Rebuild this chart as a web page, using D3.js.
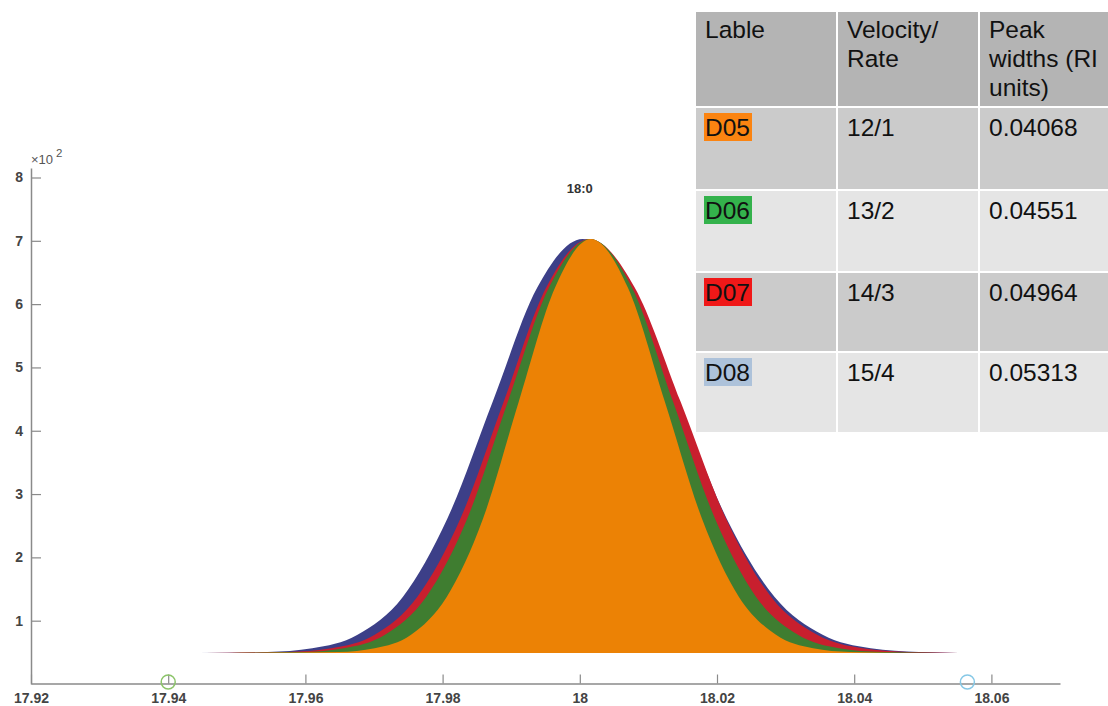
<!DOCTYPE html>
<html>
<head>
<meta charset="utf-8">
<script src="https://cdn.jsdelivr.net/npm/d3@7"></script>
<style>
  body { margin: 0; background: #fff; }
  svg { display: block; font-family: "Liberation Sans", Arial, sans-serif; }
</style>
</head>
<body>
<div id="chart"></div>
<script>
// axis ticks
var xTicks = [17.92, 17.94, 17.96, 17.98, 18, 18.02, 18.04, 18.06];
var xTickLabels = ["17.92", "17.94", "17.96", "17.98", "18", "18.02", "18.04", "18.06"];
var yTicks = [1, 2, 3, 4, 5, 6, 7, 8];
var yTickLabels = ["1", "2", "3", "4", "5", "6", "7", "8"];

// level the peaks sit on (x10^2)
var floorLevel = 0.49;

// series: [retention index, signal x10^2]
var d08 = [[17.9445, 0.49], [17.9545, 0.504], [17.9610, 0.563], [17.9676, 0.777], [17.9742, 1.375],
  [17.9807, 2.614], [17.9873, 4.457], [17.9938, 6.262], [18.0004, 7.03], [18.0074, 6.262],
  [18.0144, 4.457], [18.0214, 2.614], [18.0284, 1.375], [18.0354, 0.777], [18.0424, 0.563],
  [18.0494, 0.504], [18.0552, 0.49]];
var d07 = [[17.9454, 0.49], [17.9575, 0.504], [17.9638, 0.563], [17.9701, 0.777], [17.9763, 1.375],
  [17.9826, 2.614], [17.9889, 4.457], [17.9951, 6.262], [18.0014, 7.03], [18.0080, 6.262],
  [18.0147, 4.457], [18.0213, 2.614], [18.0279, 1.375], [18.0346, 0.777], [18.0412, 0.563],
  [18.0479, 0.504], [18.0552, 0.49]];
var d06 = [[17.9454, 0.49], [17.9597, 0.504], [17.9656, 0.563], [17.9716, 0.777], [17.9776, 1.375],
  [17.9836, 2.614], [17.9895, 4.457], [17.9955, 6.262], [18.0015, 7.03], [18.0076, 6.262],
  [18.0136, 4.457], [18.0197, 2.614], [18.0257, 1.375], [18.0318, 0.777], [18.0378, 0.563],
  [18.0439, 0.504], [18.0526, 0.49]];
var d05 = [[17.9490, 0.49], [17.9649, 0.504], [17.9701, 0.563], [17.9754, 0.777], [17.9806, 1.375],
  [17.9859, 2.614], [17.9911, 4.457], [17.9964, 6.262], [18.0016, 7.03], [18.0070, 6.262],
  [18.0124, 4.457], [18.0178, 2.614], [18.0232, 1.375], [18.0286, 0.777], [18.0340, 0.563],
  [18.0394, 0.504], [18.0467, 0.49]];

var seriesData = [d08, d07, d06, d05];   // back to front
var seriesColors = ["#3c3f88", "#c81f2e", "#3f7d30", "#ec8205"];

// table
var tableHeader = [["Lable"], ["Velocity/", "Rate"], ["Peak", "widths (RI", "units)"]];
var labels = ["D05", "D06", "D07", "D08"];
var labelColors = ["#fb8411", "#34b24c", "#f01818", "#adc2da"];
var velocity = ["12/1", "13/2", "14/3", "15/4"];
var peakWidths = ["0.04068", "0.04551", "0.04964", "0.05313"];

// axis markers
var markerX = [17.94, 18.0565];
var markerColors = ["#8cc46a", "#86c8e6"];

var svgWidth = 1108;
var svgHeight = 706;

var svg = d3.select("#chart")
  .append("svg")
  .attr("width", svgWidth)
  .attr("height", svgHeight);

var x = d3.scaleLinear().domain([17.92, 18.07]).range([31, 1060]);
var y = d3.scaleLinear().domain([0, 8.15]).range([684, 168]);

// peaks
var area = d3.area()
  .x(d => x(d[0]))
  .y0(y(floorLevel))
  .y1(d => y(d[1]))
  .curve(d3.curveMonotoneX);

svg.append("g").selectAll("path")
  .data(seriesData)
  .enter()
  .append("path")
  .attr("d", area)
  .attr("fill", (d, i) => seriesColors[i]);

// axes
var xAxis = svg.append("g")
  .attr("transform", "translate(0,683.5)")
  .call(d3.axisBottom(x)
    .tickValues(xTicks)
    .tickFormat((d, i) => xTickLabels[i])
    .tickSizeInner(-9)
    .tickSizeOuter(0)
    .tickPadding(10));

var yAxis = svg.append("g")
  .attr("transform", "translate(31,0)")
  .call(d3.axisLeft(y)
    .tickValues(yTicks)
    .tickFormat((d, i) => yTickLabels[i])
    .tickSizeInner(-10)
    .tickSizeOuter(0)
    .tickPadding(8));

[xAxis, yAxis].forEach(function(ax) {
  ax.attr("font-size", 14).attr("font-family", "Liberation Sans, Arial, sans-serif");
  ax.select(".domain").attr("stroke", "#8a8a8a").attr("stroke-width", 1.5);
  ax.selectAll(".tick line").attr("stroke", "#8a8a8a").attr("stroke-width", 1.2);
  ax.selectAll(".tick text")
    .attr("fill", "#444")
    .style("font-size", "14px")
    .style("font-weight", "bold");
});

// exponent label
var expLabel = svg.append("text")
  .attr("x", 31)
  .attr("y", 164)
  .attr("fill", "#555")
  .style("font-size", "13px");
expLabel.append("tspan").text("\u00d710");
expLabel.append("tspan").attr("dy", -7).attr("dx", 3).style("font-size", "11.5px").text("2");

// peak label
svg.append("text")
  .attr("x", x(18))
  .attr("y", 193)
  .attr("text-anchor", "middle")
  .style("font-size", "13px")
  .style("font-weight", "bold")
  .attr("fill", "#333")
  .text("18:0");

// markers on the axis
svg.append("g").selectAll("circle")
  .data(markerX)
  .enter()
  .append("circle")
  .attr("cx", d => x(d))
  .attr("cy", 682)
  .attr("r", 7)
  .attr("fill", "none")
  .attr("stroke", (d, i) => markerColors[i])
  .attr("stroke-width", 1.5);

// table
var colX = [695, 837, 979, 1110];
var rowY = [11, 107, 190, 272, 352, 433];
var rowFill = ["#b4b4b4", "#cbcbcb", "#e5e5e5", "#cbcbcb", "#e5e5e5"];
var table = svg.append("g");

for (var r = 0; r < 5; r++) {
  for (var c = 0; c < 3; c++) {
    table.append("rect")
      .attr("x", colX[c])
      .attr("y", rowY[r])
      .attr("width", colX[c + 1] - colX[c])
      .attr("height", rowY[r + 1] - rowY[r])
      .attr("fill", rowFill[r])
      .attr("stroke", "#fff")
      .attr("stroke-width", 2);
  }
}

tableHeader.forEach(function(lines, c) {
  lines.forEach(function(line, j) {
    table.append("text")
      .attr("x", colX[c] + 10)
      .attr("y", rowY[0] + 27 + j * 29)
      .style("font-size", "24.5px")
      .attr("fill", "#111")
      .text(line);
  });
});

labels.forEach(function(lab, i) {
  var top = rowY[i + 1];
  table.append("rect")
    .attr("x", colX[0] + 9)
    .attr("y", top + 6)
    .attr("width", 48)
    .attr("height", 28)
    .attr("fill", labelColors[i]);
  [lab, velocity[i], peakWidths[i]].forEach(function(t, c) {
    table.append("text")
      .attr("x", colX[c] + 10)
      .attr("y", top + 29)
      .style("font-size", "24.5px")
      .attr("fill", "#111")
      .text(t);
  });
});
</script>
</body>
</html>
